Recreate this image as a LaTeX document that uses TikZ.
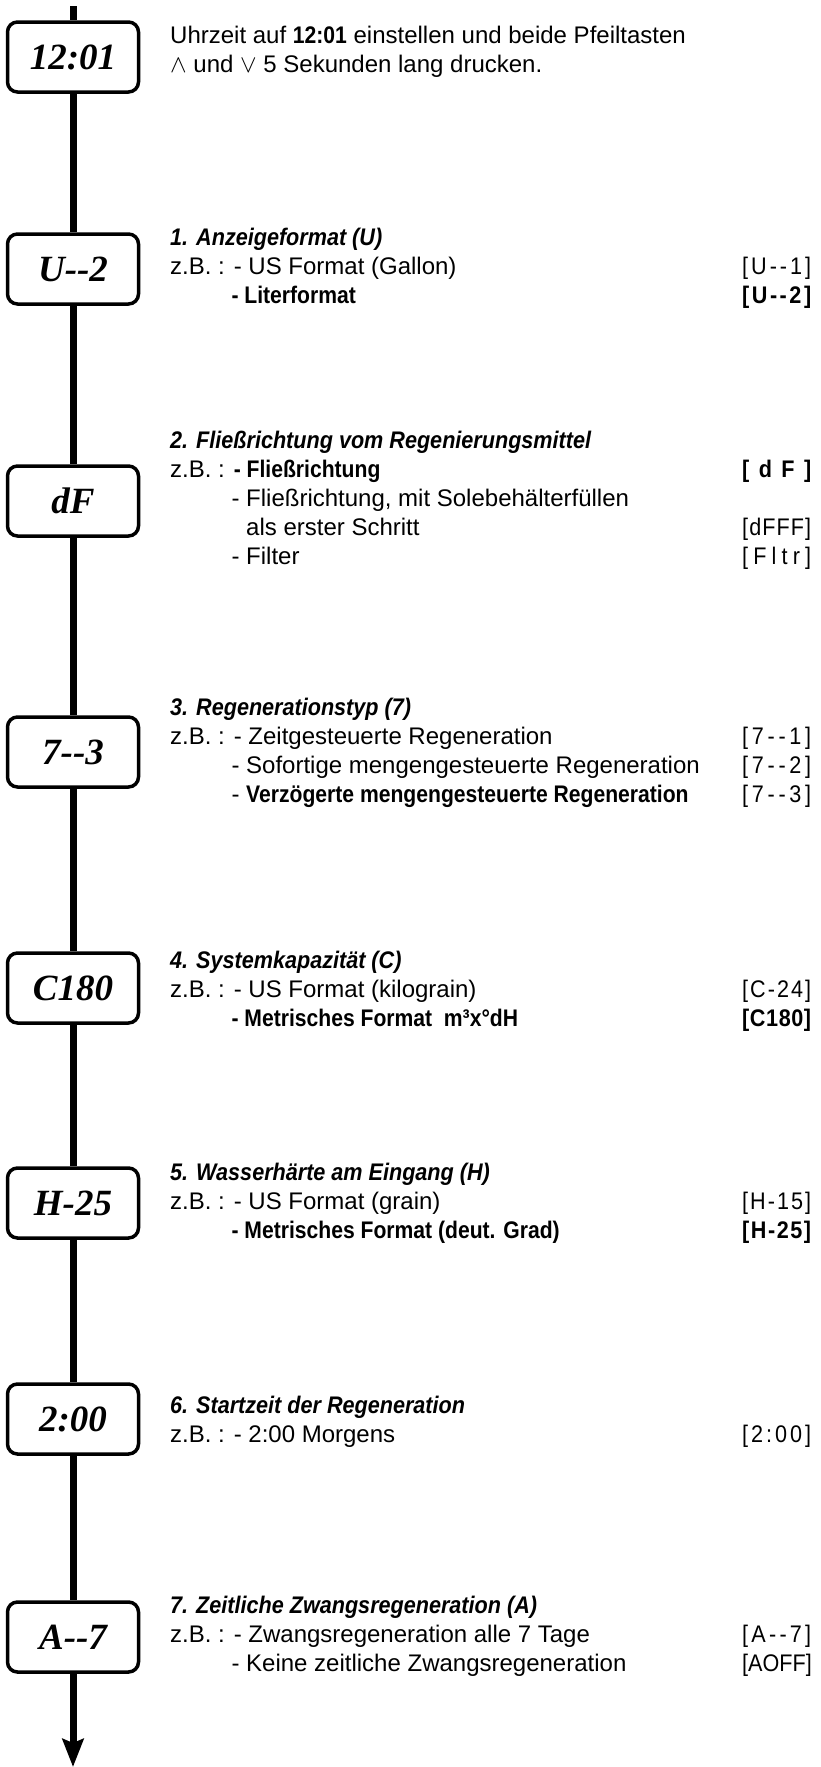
\documentclass[tikz,border=0pt]{standalone}
\usepackage{fontspec}
\setmainfont{Liberation Sans}[BoldFeatures={FakeStretch=0.88}]
\newfontfamily\headfont{Liberation Sans}[FakeStretch=0.9]
\newfontfamily\codefont{Liberation Sans}[FakeStretch=0.9]
\newfontfamily\boxfont{Liberation Serif}
\usetikzlibrary{positioning,arrows.meta}
\tikzset{
    >={Stealth[length=28pt,width=21pt,inset=4pt]},
    stepbox/.style={
        rectangle,
        rounded corners=10pt,
        draw=black, line width=3.5pt,
        fill=white,
        minimum width=131pt,
        minimum height=70pt,
        inner sep=0pt,
        font=\boxfont\bfseries\itshape\fontsize{37}{40}\selectfont
    },
    stem/.style={draw, line width=7pt},
    desc/.style={anchor=base west, inner sep=0pt, font=\fontsize{24}{29}\selectfont},
}
\newcommand{\zb}{\phantom{z.B. :\ }}
\newcommand{\zbb}{\phantom{z.B. :\ -\ }}
\newcommand{\hd}[1]{{\headfont\bfseries\itshape #1}}
\newcommand{\cd}[1]{{\codefont\makebox[69pt][s]{#1}}}

\begin{document}
\begin{tikzpicture}[x=1pt,y=-1pt]
\useasboundingbox (0,0) rectangle (820,1767);

% the settings, one box each
\node[stepbox] (b0) at (73,57) {12:01};
\node[stepbox] (b1) at (73,269) {U-{}-2};
\node[stepbox] (b2) at (73,501) {dF};
\node[stepbox] (b3) at (73,752) {7-{}-3};
\node[stepbox] (b4) at (73,988) {C180};
\node[stepbox] (b5) at (73,1203) {H-25};
\node[stepbox] (b6) at (73,1419) {2:00};
\node[stepbox] (b7) at (73,1637) {A-{}-7};

\coordinate (top) at (73,6);
\coordinate (end) at (73,1767);
\draw[stem] (top) -- (b0);
\draw[stem] (b0) -- (b1);
\draw[stem] (b1) -- (b2);
\draw[stem] (b2) -- (b3);
\draw[stem] (b3) -- (b4);
\draw[stem] (b4) -- (b5);
\draw[stem] (b5) -- (b6);
\draw[stem] (b6) -- (b7);
\draw[stem,->] (b7) -- (end);

% texts on the right
\node[desc] (s0) at (170,43) {\begin{tabular}[t]{@{}l@{}}
Uhrzeit auf \textbf{12:01} einstellen und beide Pfeiltasten\\
$\wedge$ und $\vee$ 5 Sekunden lang drucken.
\end{tabular}};

\node[desc] (s1) at (170,245) {\begin{tabular}[t]{@{}l@{}}
\hd{1. Anzeigeformat (U)}\\
z.B. : - US Format (Gallon)\\
\zb\textbf{- Literformat}
\end{tabular}};
\node[desc] (c1) at (742,274) {\begin{tabular}[t]{@{}l@{}}
\cd{[\hfil U\hfil -\hfil -\hfil 1\hfil ]}\\
\cd{\bfseries[\hfil U\hfil -\hfil -\hfil 2\hfil ]}
\end{tabular}};

\node[desc] (s2) at (170,448) {\begin{tabular}[t]{@{}l@{}}
\hd{2. Fließrichtung vom Regenierungsmittel}\\
z.B. : \textbf{- Fließrichtung}\\
\zb- Fließrichtung, mit Solebehälterfüllen\\
\zbb als erster Schritt\\
\zb- Filter
\end{tabular}};
\node[desc] (c2) at (742,477) {\begin{tabular}[t]{@{}l@{}}
\cd{\bfseries[\hfil d\hfil F\hfil ]}\\
\\
\cd{[\hfil d\hfil F\hfil F\hfil F\hfil ]}\\
\cd{[\hfil F\hfil l\hfil t\hfil r\hfil ]}
\end{tabular}};

\node[desc] (s3) at (170,715) {\begin{tabular}[t]{@{}l@{}}
\hd{3. Regenerationstyp (7)}\\
z.B. : - Zeitgesteuerte Regeneration\\
\zb- Sofortige mengengesteuerte Regeneration\\
\zb- \textbf{Verzögerte mengengesteuerte Regeneration}
\end{tabular}};
\node[desc] (c3) at (742,744) {\begin{tabular}[t]{@{}l@{}}
\cd{[\hfil 7\hfil -\hfil -\hfil 1\hfil ]}\\
\cd{[\hfil 7\hfil -\hfil -\hfil 2\hfil ]}\\
\cd{[\hfil 7\hfil -\hfil -\hfil 3\hfil ]}
\end{tabular}};

\node[desc] (s4) at (170,968) {\begin{tabular}[t]{@{}l@{}}
\hd{4. Systemkapazität (C)}\\
z.B. : - US Format (kilograin)\\
\zb\textbf{- Metrisches Format~~m³x°dH}
\end{tabular}};
\node[desc] (c4) at (742,997) {\begin{tabular}[t]{@{}l@{}}
\cd{[\hfil C\hfil -\hfil 2\hfil 4\hfil ]}\\
\cd{\bfseries[\hfil C\hfil 1\hfil 8\hfil 0\hfil ]}
\end{tabular}};

\node[desc] (s5) at (170,1180) {\begin{tabular}[t]{@{}l@{}}
\hd{5. Wasserhärte am Eingang (H)}\\
z.B. : - US Format (grain)\\
\zb\textbf{- Metrisches Format (deut. Grad)}
\end{tabular}};
\node[desc] (c5) at (742,1209) {\begin{tabular}[t]{@{}l@{}}
\cd{[\hfil H\hfil -\hfil 1\hfil 5\hfil ]}\\
\cd{\bfseries[\hfil H\hfil -\hfil 2\hfil 5\hfil ]}
\end{tabular}};

\node[desc] (s6) at (170,1413) {\begin{tabular}[t]{@{}l@{}}
\hd{6. Startzeit der Regeneration}\\
z.B. : - 2:00 Morgens
\end{tabular}};
\node[desc] (c6) at (742,1442) {\begin{tabular}[t]{@{}l@{}}
\cd{[\hfil 2\hfil :\hfil 0\hfil 0\hfil ]}
\end{tabular}};

\node[desc] (s7) at (170,1613) {\begin{tabular}[t]{@{}l@{}}
\hd{7. Zeitliche Zwangsregeneration (A)}\\
z.B. : - Zwangsregeneration alle 7 Tage\\
\zb- Keine zeitliche Zwangsregeneration
\end{tabular}};
\node[desc] (c7) at (742,1642) {\begin{tabular}[t]{@{}l@{}}
\cd{[\hfil A\hfil -\hfil -\hfil 7\hfil ]}\\
\cd{[\hfil A\hfil O\hfil F\hfil F\hfil ]}
\end{tabular}};
\end{tikzpicture}
\end{document}
